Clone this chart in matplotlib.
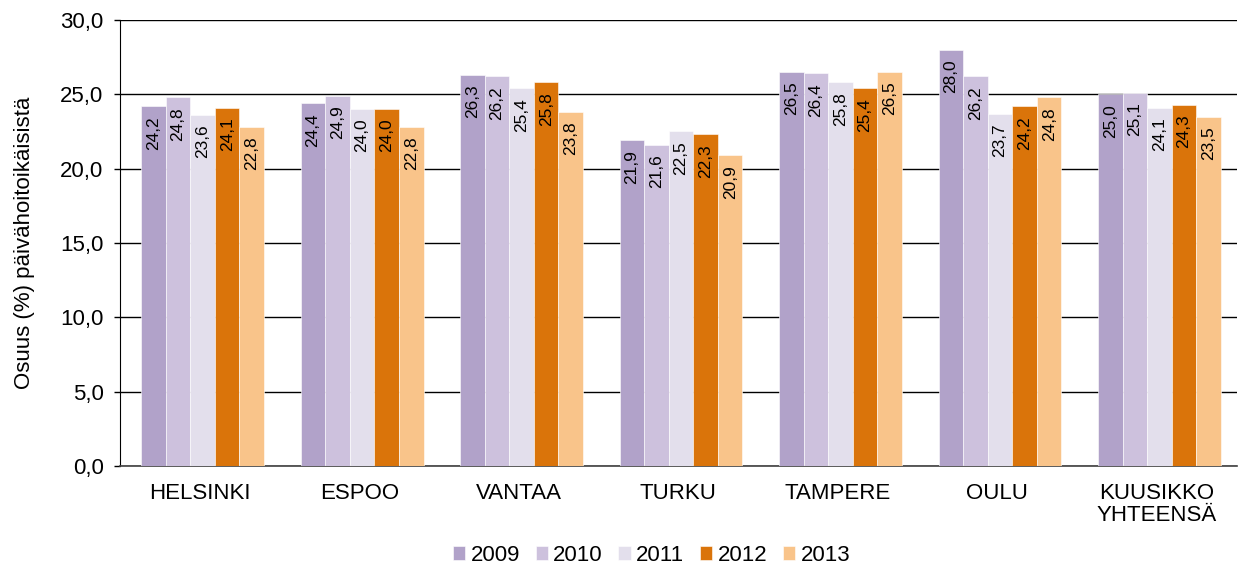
import numpy as np
import matplotlib.pyplot as plt

plt.rcParams['font.family'] = ['Liberation Sans', 'DejaVu Sans']

# Data
cities = ["HELSINKI", "ESPOO", "VANTAA", "TURKU", "TAMPERE", "OULU", "KUUSIKKO\nYHTEENSÄ"]
years = ["2009", "2010", "2011", "2012", "2013"]
v2009 = [24.2, 24.4, 26.3, 21.9, 26.5, 28.0, 25.0]
v2010 = [24.8, 24.9, 26.2, 21.6, 26.4, 26.2, 25.1]
v2011 = [23.6, 24.0, 25.4, 22.5, 25.8, 23.7, 24.1]
v2012 = [24.1, 24.0, 25.8, 22.3, 25.4, 24.2, 24.3]
v2013 = [22.8, 22.8, 23.8, 20.9, 26.5, 24.8, 23.5]
series = [v2009, v2010, v2011, v2012, v2013]
colors = ["#B1A2C9", "#CDC1DD", "#E3DFEC", "#DA740A", "#F9C48A"]

fig = plt.figure(figsize=(12.39, 5.69), dpi=100)
ax = fig.add_axes([0.097, 0.181, 0.901, 0.784])

x = np.arange(len(cities))
w = 0.154
for i, (vals, col) in enumerate(zip(series, colors)):
    pos = x + (i - 2) * w + 0.017
    bars = ax.bar(pos, vals, w, color=col, edgecolor="white", linewidth=0.4,
                  label=years[i], zorder=3)
    for b, v in zip(bars, vals):
        ax.annotate(f"{v:.1f}".replace(".", ","),
                    (b.get_x() + b.get_width() / 2, v),
                    xytext=(0, -7), textcoords="offset points",
                    rotation=90, ha="center", va="top", fontsize=12.5, zorder=4)

ax.set_ylim(0, 30)
ax.set_xlim(-0.5, len(cities) - 0.5)
ax.set_yticks(np.arange(0, 31, 5))
ax.set_yticklabels([f"{t:.1f}".replace(".", ",") for t in np.arange(0, 31, 5)], fontsize=16)
ax.set_xticks(x)
ax.set_xticklabels(cities, fontsize=16, linespacing=1.1)
ax.tick_params(axis="x", length=0, pad=12)
ax.tick_params(axis="y", length=4, direction="out", width=1, pad=8)
ax.yaxis.grid(True, color="black", linewidth=1, zorder=0)
for s in ["top", "right"]:
    ax.spines[s].set_visible(False)
ax.spines["left"].set_color("black")
ax.spines["bottom"].set_color("#404040")
ax.spines["bottom"].set_linewidth(1.2)
ax.set_ylabel("Osuus (%) päivähoitoikäisistä", fontsize=16, labelpad=18)

ax.legend(loc="center", bbox_to_anchor=(0.476, -0.2), ncol=5, frameon=False,
          fontsize=16, handlelength=0.55, handleheight=0.55, handletextpad=0.25,
          columnspacing=0.7)

fig.savefig("out.png", dpi=100)
